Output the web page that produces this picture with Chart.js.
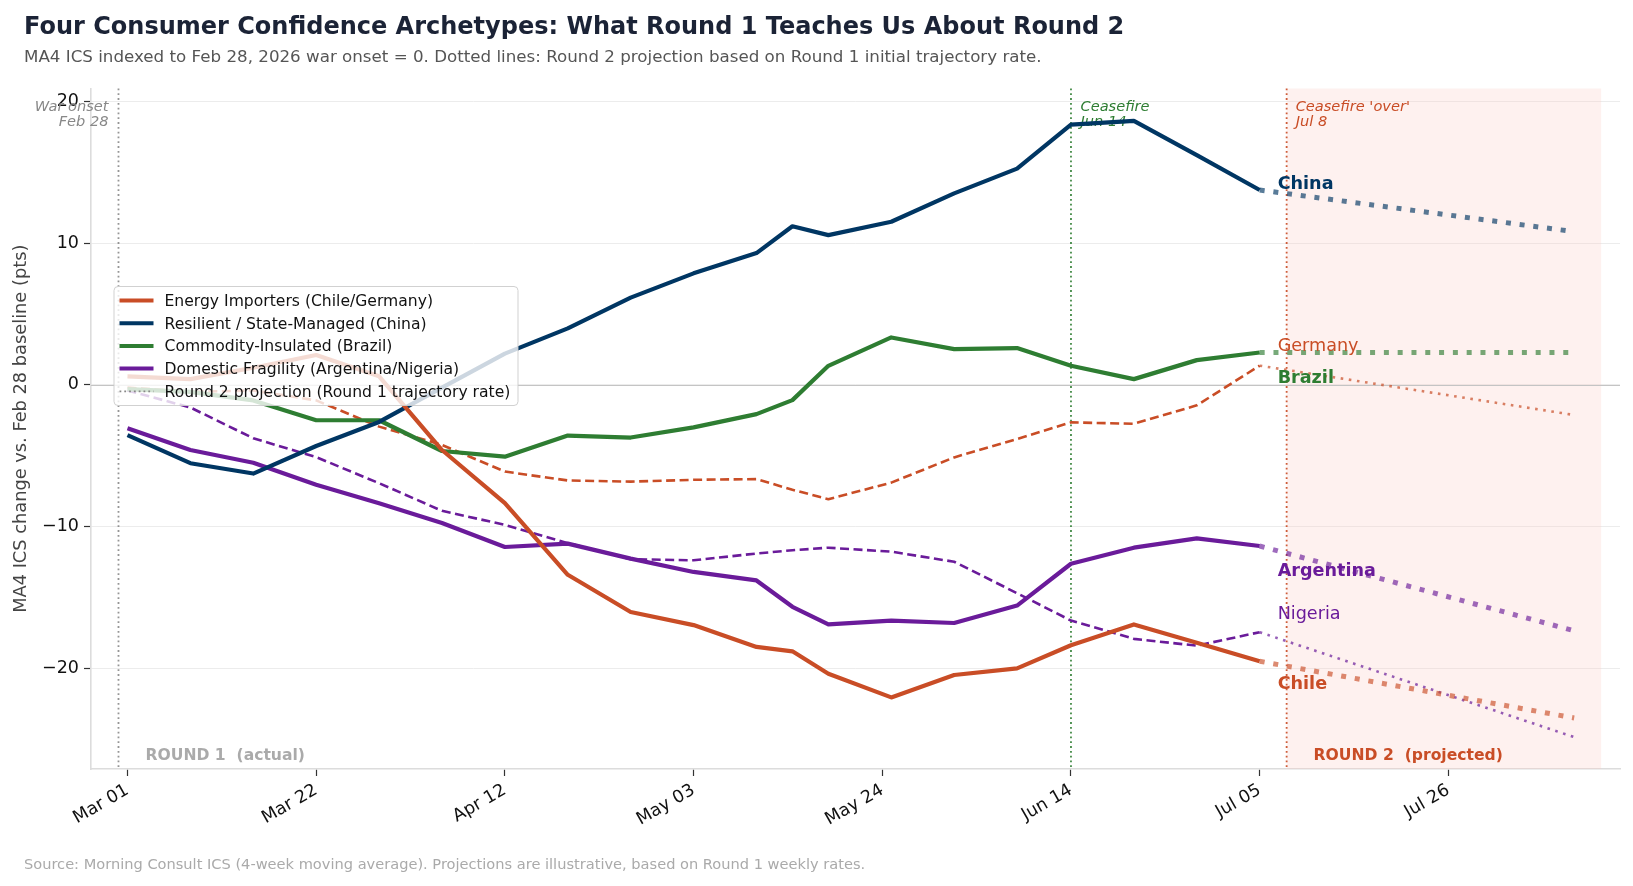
<!DOCTYPE html>
<html><head><meta charset="utf-8">
<script src="https://cdn.jsdelivr.net/npm/chart.js@4.4.1/dist/chart.umd.min.js"></script>
<style>
html,body{margin:0;padding:0;background:#fff;}
body{width:1633px;height:886px;position:relative;overflow:hidden;font-family:'DejaVu Sans',sans-serif;}
#title{position:absolute;left:24px;top:14px;font-weight:bold;font-size:24px;line-height:1;color:#1b2336;white-space:nowrap;}
#subtitle{position:absolute;left:24px;top:48.4px;font-size:16.7px;line-height:1;color:#555;white-space:nowrap;}
#footer{position:absolute;left:24px;top:856.6px;font-size:14.6px;line-height:1;color:#aaa;white-space:nowrap;}
canvas{position:absolute;left:0;top:0;}
</style></head>
<body>
<canvas id="chart" width="1633" height="886"></canvas>
<div id="title">Four Consumer Confidence Archetypes: What Round 1 Teaches Us About Round 2</div>
<div id="subtitle">MA4 ICS indexed to Feb 28, 2026 war onset = 0. Dotted lines: Round 2 projection based on Round 1 initial trajectory rate.</div>
<div id="footer">Source: Morning Consult ICS (4-week moving average). Projections are illustrative, based on Round 1 weekly rates.</div>
<script>
// ---------- DATA ----------
const dates = ['2026-03-01','2026-03-08','2026-03-15','2026-03-22','2026-03-29','2026-04-05','2026-04-12','2026-04-19','2026-04-26','2026-05-03','2026-05-10','2026-05-14','2026-05-18','2026-05-25','2026-06-01','2026-06-08','2026-06-14','2026-06-21','2026-06-28','2026-07-05'];
const chile     = [0.6, 0.4, 1.2, 2.1, 0.6, -4.6, -8.35, -13.4, -16.03, -16.95, -18.49, -18.8, -20.38, -22.05, -20.47, -20.0, -18.37, -16.9, -18.2, -19.5];
const germany   = [-0.2, -0.5, -0.4, -1.1, -2.95, -4.24, -6.12, -6.75, -6.83, -6.7, -6.65, -7.4, -8.07, -6.9, -5.12, -3.82, -2.65, -2.75, -1.45, 1.35];
const china     = [-3.55, -5.53, -6.26, -4.32, -2.62, -0.2, 2.2, 3.98, 6.15, 7.86, 9.29, 11.18, 10.56, 11.5, 13.5, 15.25, 18.35, 18.62, 16.2, 13.74];
const brazil    = [-0.3, -0.5, -1.1, -2.5, -2.5, -4.67, -5.07, -3.58, -3.72, -3.0, -2.07, -1.08, 1.34, 3.34, 2.52, 2.59, 1.34, 0.4, 1.74, 2.28];
const argentina = [-3.07, -4.6, -5.5, -7.05, -8.35, -9.75, -11.44, -11.2, -12.26, -13.2, -13.8, -15.66, -16.9, -16.63, -16.8, -15.57, -12.62, -11.49, -10.83, -11.37];
const nigeria   = [-0.4, -1.6, -3.77, -5.1, -6.94, -8.89, -9.88, -11.17, -12.3, -12.38, -11.9, -11.67, -11.49, -11.77, -12.48, -14.7, -16.63, -17.92, -18.4, -17.45];

const projDates     = ['2026-07-05','2026-08-09'];
const projChina     = [13.74, 10.8];
const projBrazil    = [2.28, 2.28];
const projGermany   = [1.35, -2.13];
const projChile     = [-19.5, -23.5];
const projArgentina = [-11.37, -17.35];
const projNigeria   = [-17.45, -24.85];

const xTickDates = ['2026-03-01','2026-03-22','2026-04-12','2026-05-03','2026-05-24','2026-06-14','2026-07-05','2026-07-26'];
const yTickValues = [-20, -10, 0, 10, 20];

const warOnsetDate = '2026-02-28';
const ceasefireDate = '2026-06-14';
const ceasefireOverDate = '2026-07-08';
const round2EndDate = '2026-08-12';

// ---------- helpers ----------
const BASE = Date.parse('2026-03-01T00:00:00Z');
function dayOf(s){ return (Date.parse(s + 'T00:00:00Z') - BASE) / 86400000; }
const MONTHS = ['Jan','Feb','Mar','Apr','May','Jun','Jul','Aug','Sep','Oct','Nov','Dec'];
function fmtDay(v){ const d = new Date(BASE + Math.round(v) * 86400000); return MONTHS[d.getUTCMonth()] + ' ' + String(d.getUTCDate()).padStart(2,'0'); }
function pts(ds, vs){ return ds.map((d,i)=>({x: dayOf(d), y: vs[i]})); }
function rgba(hex, a){ const n = parseInt(hex.slice(1),16); return `rgba(${n>>16&255},${n>>8&255},${n&255},${a})`; }

const NAVY='#003663', ORANGE='#c94d26', GREEN='#2e7d32', PURPLE='#6a1b9a';
const FONT = "'DejaVu Sans', sans-serif";
Chart.defaults.font.family = FONT;

const base = {pointRadius:0, pointHoverRadius:0, tension:0, fill:false, borderJoinStyle:'round', borderCapStyle:'butt'};
const solid = (label, d, c) => Object.assign({}, base, {label, data: pts(dates, d), borderColor: c, borderWidth: 4.2});
const dashed = (label, d, c) => Object.assign({}, base, {label, data: pts(dates, d), borderColor: c, borderWidth: 2.6, borderDash:[9,4.5]});
const projThick = (label, d, c) => Object.assign({}, base, {label, data: pts(projDates, d), borderColor: rgba(c,0.65), borderWidth: 5, borderDash:[5,8.8]});
const projThin = (label, d, c) => Object.assign({}, base, {label, data: pts(projDates, d), borderColor: rgba(c,0.7), borderWidth: 2.6, borderDash:[2.6,5.6]});

const datasets = [
  projThick('China projection', projChina, NAVY),
  projThick('Brazil projection', projBrazil, GREEN),
  projThin('Germany projection', projGermany, ORANGE),
  projThick('Chile projection', projChile, ORANGE),
  projThick('Argentina projection', projArgentina, PURPLE),
  projThin('Nigeria projection', projNigeria, PURPLE),
  solid('Chile', chile, ORANGE),
  solid('China', china, NAVY),
  solid('Brazil', brazil, GREEN),
  solid('Argentina', argentina, PURPLE),
  dashed('Germany', germany, ORANGE),
  dashed('Nigeria', nigeria, PURPLE),
];

const legendItems = [
  {text:'Energy Importers (Chile/Germany)', color: ORANGE, kind:'solid'},
  {text:'Resilient / State-Managed (China)', color: NAVY, kind:'solid'},
  {text:'Commodity-Insulated (Brazil)', color: GREEN, kind:'solid'},
  {text:'Domestic Fragility (Argentina/Nigeria)', color: PURPLE, kind:'solid'},
  {text:'Round 2 projection (Round 1 trajectory rate)', color: '#888', kind:'dot'},
];

const endLabels = [
  {text:'China', at: 14.27, color: NAVY, bold:true},
  {text:'Germany', at: 2.83, color: ORANGE, bold:false},
  {text:'Brazil', at: 0.55, color: GREEN, bold:true},
  {text:'Argentina', at: -13.03, color: PURPLE, bold:true},
  {text:'Nigeria', at: -16.04, color: PURPLE, bold:false},
  {text:'Chile', at: -21.03, color: ORANGE, bold:true},
];

function vline(ctx, x, a, color){
  ctx.save();
  ctx.strokeStyle = color; ctx.lineWidth = 1.8; ctx.setLineDash([1.8,3]);
  ctx.beginPath(); ctx.moveTo(x, a.top); ctx.lineTo(x, a.bottom); ctx.stroke();
  ctx.restore();
}
function txt(ctx, s, x, y, font, color, align){
  ctx.font = font; ctx.fillStyle = color; ctx.textAlign = align || 'left'; ctx.textBaseline = 'alphabetic';
  ctx.fillText(s, x, y);
}

const annotPlugin = {
  id: 'annot',
  beforeDatasetsDraw(chart){
    const {ctx, chartArea:a, scales:{x, y}} = chart;
    ctx.save();
    const s0 = x.getPixelForValue(dayOf(ceasefireOverDate)), s1 = x.getPixelForValue(dayOf(round2EndDate));
    ctx.fillStyle = 'rgba(250,200,190,0.25)';
    ctx.fillRect(s0, a.top, s1 - s0, a.bottom - a.top);
    const y0 = Math.round(y.getPixelForValue(0)) + 0.5;
    ctx.strokeStyle = '#c4c4c4'; ctx.lineWidth = 1.2;
    ctx.beginPath(); ctx.moveTo(a.left, y0); ctx.lineTo(a.right, y0); ctx.stroke();
    const xw = x.getPixelForValue(dayOf(warOnsetDate));
    const xc = x.getPixelForValue(dayOf(ceasefireDate));
    const xo = x.getPixelForValue(dayOf(ceasefireOverDate));
    vline(ctx, xw, a, 'rgba(130,130,130,0.85)');
    vline(ctx, xc, a, rgba(GREEN, 0.9));
    vline(ctx, xo, a, rgba(ORANGE, 0.9));
    const f = "italic 14.6px " + FONT;
    const b1 = a.top + 22, b2 = a.top + 37.5;
    txt(ctx, 'War onset', xw - 10, b1, f, '#888', 'right');
    txt(ctx, 'Feb 28', xw - 10, b2, f, '#888', 'right');
    txt(ctx, 'Ceasefire', xc + 9.5, b1, f, GREEN, 'left');
    txt(ctx, 'Jun 14', xc + 9.5, b2, f, GREEN, 'left');
    txt(ctx, "Ceasefire 'over'", xo + 9, b1, f, ORANGE, 'left');
    txt(ctx, 'Jul 8', xo + 9, b2, f, ORANGE, 'left');
    ctx.restore();
  },
  afterDatasetsDraw(chart){
    const {ctx, chartArea:a, scales:{x, y}} = chart;
    ctx.save();
    const lx = x.getPixelForValue(dayOf('2026-07-07'));
    const F = 17.6;
    endLabels.forEach(l => {
      txt(ctx, l.text, lx, y.getPixelForValue(l.at) + 0.36*F, (l.bold ? 'bold ' : '') + F + 'px ' + FONT, l.color, 'left');
    });
    const rb = y.getPixelForValue(-26.1) + 0.36*15.6;
    txt(ctx, 'ROUND 1  (actual)', x.getPixelForValue(2), rb, 'bold 15.6px ' + FONT, '#aaa', 'left');
    txt(ctx, 'ROUND 2  (projected)', x.getPixelForValue(132), rb, 'bold 15.6px ' + FONT, ORANGE, 'left');
    const L = a.left + 23, T = a.top + 198, W = 404, H = 119, r = 4;
    ctx.beginPath();
    ctx.moveTo(L + r, T); ctx.lineTo(L + W - r, T); ctx.arcTo(L + W, T, L + W, T + r, r);
    ctx.lineTo(L + W, T + H - r); ctx.arcTo(L + W, T + H, L + W - r, T + H, r);
    ctx.lineTo(L + r, T + H); ctx.arcTo(L, T + H, L, T + H - r, r);
    ctx.lineTo(L, T + r); ctx.arcTo(L, T, L + r, T, r); ctx.closePath();
    ctx.fillStyle = 'rgba(255,255,255,0.8)'; ctx.fill();
    ctx.strokeStyle = 'rgba(204,204,204,0.9)'; ctx.lineWidth = 1; ctx.stroke();
    const LF = 15.6;
    legendItems.forEach((it, i) => {
      const cy = T + 14 + i*22.7;
      ctx.save();
      ctx.strokeStyle = it.color;
      if (it.kind === 'solid'){ ctx.lineWidth = 4; ctx.setLineDash([]); }
      else { ctx.lineWidth = 1.8; ctx.setLineDash([1.8, 3]); }
      ctx.beginPath(); ctx.moveTo(L + 5.5, cy); ctx.lineTo(L + 39.5, cy); ctx.stroke();
      ctx.restore();
      txt(ctx, it.text, L + 50.5, cy + 0.35*LF, LF + 'px ' + FONT, '#111', 'left');
    });
    ctx.restore();
  }
};

new Chart(document.getElementById('chart'), {
  type: 'line',
  data: { datasets },
  options: {
    responsive: false, animation: false, devicePixelRatio: 1,
    layout: { padding: { left: 0, top: 88.5, right: 13, bottom: 0 } },
    plugins: { legend: { display: false }, tooltip: { enabled: false }, title: { display: false } },
    scales: {
      x: {
        type: 'linear', min: -4.06, max: 166.1,
        afterBuildTicks(s){ s.ticks = xTickDates.map(d => ({ value: dayOf(d) })); },
        afterFit(s){ s.height = 117; },
        grid: { drawOnChartArea: false, drawTicks: true, tickLength: 7, tickColor: '#333', tickWidth: 1.2 },
        border: { display: true, color: '#dcdcdc', width: 1.6 },
        ticks: { autoSkip: false, minRotation: 30, maxRotation: 30, padding: 4, color: '#111', font: { size: 17.5 }, callback: v => fmtDay(v) }
      },
      y: {
        min: -27.1, max: 20.9,
        afterBuildTicks(s){ s.ticks = yTickValues.map(v => ({ value: v })); },
        afterFit(s){ s.width = 91; },
        grid: { color: '#ececec', lineWidth: 1, drawTicks: true, tickLength: 7, tickColor: '#333', tickWidth: 1.2 },
        border: { display: true, color: '#dcdcdc', width: 1.6 },
        ticks: { padding: 5, color: '#111', font: { size: 17.5 }, callback: v => (v < 0 ? '\u2212' + Math.abs(v) : String(v)) },
        title: { display: true, text: 'MA4 ICS change vs. Feb 28 baseline (pts)', color: '#444', font: { size: 17.8 }, padding: { top: 11, bottom: 0 } }
      }
    }
  },
  plugins: [annotPlugin]
});
</script>
</body></html>
